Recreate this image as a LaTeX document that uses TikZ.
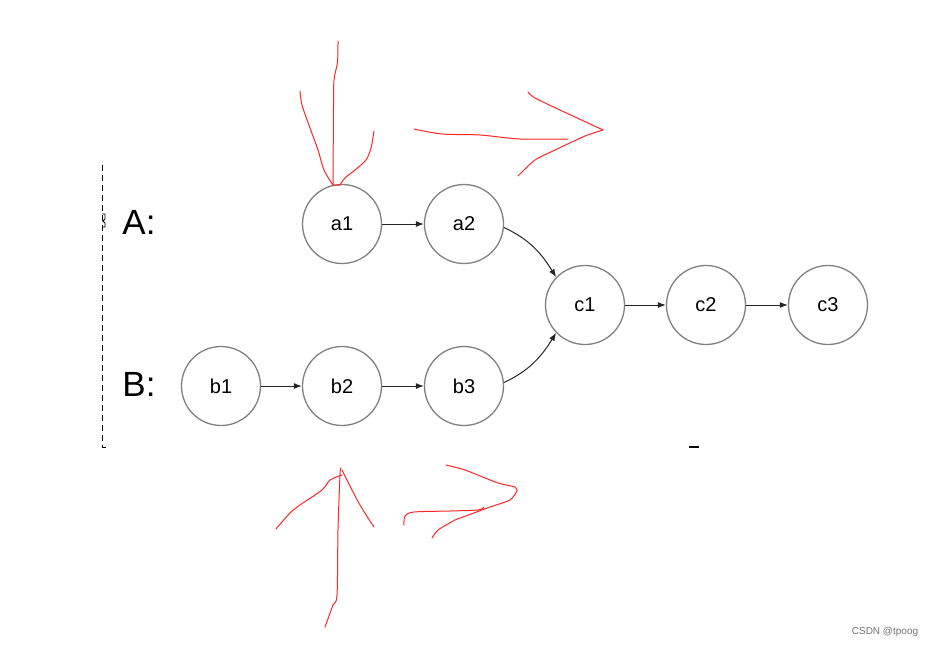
\documentclass[tikz,border=0pt]{standalone}
\usepackage{fontspec}
\setmainfont{Liberation Sans}
\usetikzlibrary{arrows.meta}
\begin{document}
\begin{tikzpicture}[x=1pt,y=-1pt,
  nd/.style={circle,draw=black!50,line width=1.3pt,minimum size=79pt,inner sep=0pt,font=\fontsize{20}{24}\selectfont},
  conn/.style={draw=black!85,line width=1pt,-{Latex[length=8pt,width=6pt]}},
  redline/.style={draw=red!85!white,line width=1pt,line join=round,line cap=round},
  lbl/.style={font=\fontsize{35}{40}\selectfont,inner sep=0pt}]
\useasboundingbox[fill=white] (0,0) rectangle (934,648);
\node[nd] (a1) at (342,224) {a1};
\node[nd] (a2) at (464,224) {a2};
\node[nd] (c1) at (585,305) {c1};
\node[nd] (c2) at (706,305) {c2};
\node[nd] (c3) at (828,305) {c3};
\node[nd] (b1) at (221,386) {b1};
\node[nd] (b2) at (342,386) {b2};
\node[nd] (b3) at (464,386) {b3};
\node[lbl] (A) at (139,222) {A:};
\node[lbl] (B) at (139,384) {B:};
\draw[conn] (a1) -- (a2);
\draw[conn] (b1) -- (b2);
\draw[conn] (b2) -- (b3);
\draw[conn] (c1) -- (c2);
\draw[conn] (c2) -- (c3);
\draw[conn] (a2.-5) to[out=-25,in=122] (c1.136);
\draw[conn] (b3.5) to[out=25,in=-122] (c1.-136);
% dashed bracket
\coordinate (dtop) at (102,165);
\coordinate (dbot) at (102,447);
\draw[black,line width=0.9pt,dash pattern=on 6pt off 4pt] (dtop) -- (dbot) -- ++(4,0);
\draw[black,line width=0.9pt] (102,214) -- (105,214) -- (105,219) -- (103,221) -- (105,223) -- (105,227) -- (102,227);
\draw[black,line width=1.2pt] (689,447) -- (699,447);
% red annotations top
\draw[redline] plot[smooth,tension=0.5] coordinates {(338,41) (337.5,62) (334,80) (333.5,108) (333,185)};
\draw[redline] plot[smooth,tension=0.5] coordinates {(300,91) (302,105) (310,128) (318,150) (324,170) (333,185)} -- (340,185);
\draw[redline] plot[smooth,tension=0.5] coordinates {(374,131) (371,148) (366,160) (355,170) (345,178) (340,185)};
\draw[redline] plot[smooth,tension=0.5] coordinates {(414,129) (442,134) (480,135) (520,139) (568,139)};
\draw[redline] plot[smooth,tension=0.4] coordinates {(528,92) (535,98) (560,110) (603,130)};
\draw[redline] plot[smooth,tension=0.4] coordinates {(603,130) (585,136) (555,150) (535,160) (518,176)};
% red annotations bottom
\draw[redline] plot[smooth,tension=0.5] coordinates {(341,468) (340,475) (338,530) (337,595) (333,605) (325,627)};
\draw[redline] plot[smooth,tension=0.5] coordinates {(276,529) (290,513) (300,505) (322,490) (330,480) (342,475)};
\draw[redline] plot[smooth,tension=0.5] coordinates {(342,470) (352,490) (360,505) (368,518) (374,527)};
\draw[redline] plot[smooth,tension=0.5] coordinates {(404,525) (405,516) (414,512) (450,511) (478,510) (484,507)};
\draw[redline] plot[smooth,tension=0.4] coordinates {(446,465) (465,470) (498,483) (515,487) (517,491)};
\draw[redline] plot[smooth,tension=0.4] coordinates {(517,491) (510,500) (490,507) (463,517) (455,520) (438,530) (432,538)};
\node[font=\fontsize{10}{12}\selectfont,text=black!55,inner sep=0pt] (wm) at (885,632) {CSDN @tpoog};
\end{tikzpicture}
\end{document}
